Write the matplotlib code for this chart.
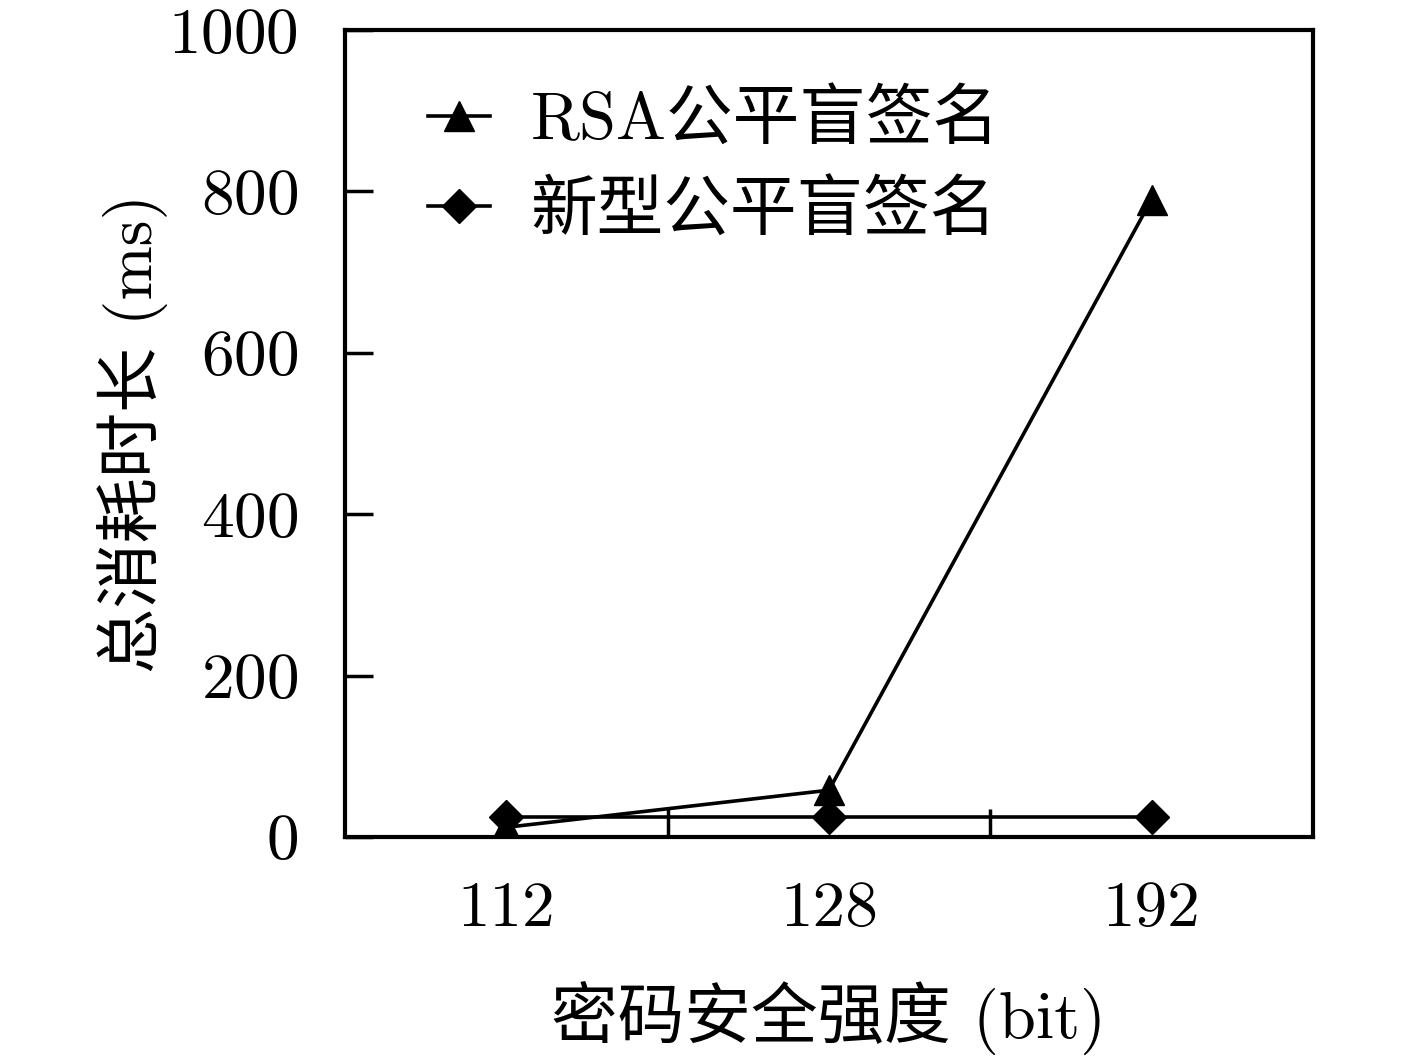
import matplotlib
matplotlib.use("Agg")
import matplotlib.pyplot as plt

plt.rcParams['font.family'] = ['cmr10', 'Noto Sans CJK SC', 'DejaVu Sans']
plt.rcParams['axes.unicode_minus'] = False
plt.rcParams['axes.formatter.use_mathtext'] = True

# data
strengths = ['112', '128', '192']
rsa_ms = [12, 58, 790]
new_ms = [25, 25, 25]

fig = plt.figure(figsize=(14.17, 10.58), dpi=100)
ax = fig.add_axes([0.2435, 0.2089, 0.683, 0.7627])

xpos = [1, 2, 3]
ax.plot(xpos, rsa_ms, color='black', lw=2.6, marker='^', markersize=22,
        label='RSA公平盲签名')
ax.plot(xpos, new_ms, color='black', lw=2.6, marker='D', markersize=17,
        label='新型公平盲签名')

ax.set_xlim(0.5, 3.5)
ax.set_ylim(0, 1000)
ax.set_yticks([0, 200, 400, 600, 800, 1000])
ax.set_xticks(xpos)
ax.set_xticklabels(strengths)
ax.set_xticks([1.5, 2.5], minor=True)

ax.tick_params(axis='x', which='major', length=0, pad=32, labelsize=47)
ax.tick_params(axis='x', which='minor', direction='in', length=20, width=2.5)
ax.tick_params(axis='y', direction='in', length=20, width=2.5, pad=34, labelsize=47)
for s in ax.spines.values():
    s.set_linewidth(3)

ax.set_xlabel('密码安全强度 (bit)', fontsize=48, labelpad=30)
ax.set_ylabel('总消耗时长 (ms)', fontsize=47, labelpad=0)

ax.legend(loc='upper left', frameon=False, fontsize=48, handlelength=0.93,
          handletextpad=0.6, labelspacing=0.43, bbox_to_anchor=(0.024, 1.0))

fig.savefig('out.png', dpi=100)
